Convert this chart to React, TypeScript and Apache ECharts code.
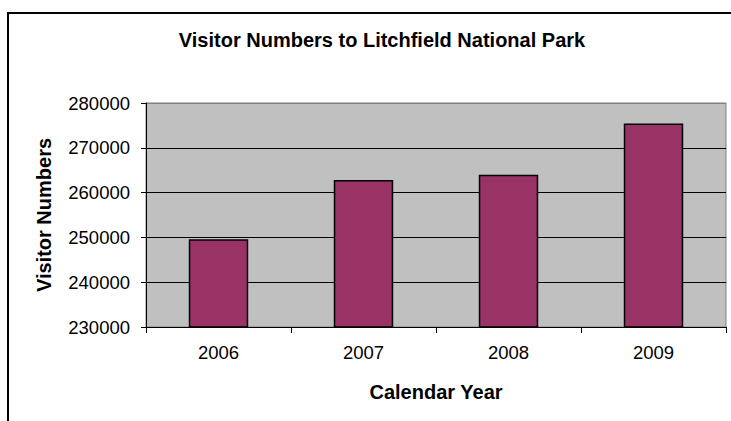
import React, { useEffect, useRef } from "react";
import * as echarts from "echarts";

const years = ["2006", "2007", "2008", "2009"];
const visitors = [249600, 262800, 264000, 275400];
const yMin = 230000;
const yMax = 280000;
const yStep = 10000;

export default function App() {
  const ref = useRef<HTMLDivElement>(null);
  useEffect(() => {
    document.body.style.margin = "0";
    const chart = echarts.init(ref.current!, null, { renderer: "svg" });
    const font = "'Liberation Sans', Arial, sans-serif";
    chart.setOption({
      animation: false,
      backgroundColor: "#ffffff",
      title: {
        text: "Visitor Numbers to Litchfield National Park",
        left: 377,
        top: 25,
        textAlign: "center",
        textStyle: { fontFamily: font, fontSize: 20, fontWeight: "bold", color: "#000" },
      },
      graphic: [
        {
          type: "rect",
          shape: { x: 8, y: 13, width: 800, height: 500 },
          style: { fill: "none", stroke: "#000", lineWidth: 2 },
          silent: true,
          z: 100,
        },
      ],
      grid: {
        left: 146,
        right: 5,
        top: 103,
        bottom: 94,
        show: true,
        backgroundColor: "#C0C0C0",
        borderColor: "#808080",
        borderWidth: 1,
      },
      xAxis: {
        type: "category",
        data: years,
        boundaryGap: true,
        name: "Calendar Year",
        nameLocation: "middle",
        nameGap: 55,
        nameTextStyle: { fontFamily: font, fontSize: 20, fontWeight: "bold", color: "#000" },
        axisLine: { show: true, lineStyle: { color: "#000", width: 1 } },
        axisTick: { show: true, length: 6, lineStyle: { color: "#000" } },
        axisLabel: { fontFamily: font, fontSize: 18.5, color: "#000", margin: 16 },
        splitLine: { show: false },
      },
      yAxis: {
        type: "value",
        min: yMin,
        max: yMax,
        interval: yStep,
        name: "Visitor Numbers",
        nameLocation: "middle",
        nameGap: 92,
        nameTextStyle: { fontFamily: font, fontSize: 20, fontWeight: "bold", color: "#000" },
        axisLine: { show: true, lineStyle: { color: "#000", width: 1 } },
        axisTick: { show: true, length: 5, lineStyle: { color: "#000" } },
        axisLabel: {
          fontFamily: font,
          fontSize: 18.5,
          color: "#000",
          margin: 16,
          formatter: (v: number) => String(v),
        },
        splitLine: {
          show: true,
          lineStyle: { color: ["#000", "#000", "#000", "#000", "#000", "#808080"], width: 1 },
        },
      },
      series: [
        {
          type: "bar",
          data: visitors,
          barWidth: "41%",
          itemStyle: { color: "#993366", borderColor: "#000", borderWidth: 1.5 },
        },
      ],
    });
    return () => chart.dispose();
  }, []);
  return <div ref={ref} style={{ width: 731, height: 421 }} />;
}
